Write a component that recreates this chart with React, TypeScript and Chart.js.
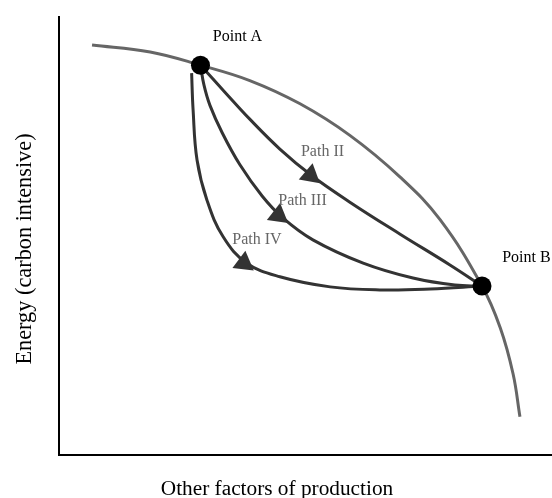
import React, { useEffect, useRef } from "react";
import { Chart, registerables } from "chart.js";

Chart.register(...registerables);

// Production possibility frontier (gray curve)
const frontierX = [6.7, 18.5, 28.7, 38.7, 48.9, 59.0, 69.2, 77.3, 85.8, 89.5, 92.1, 93.5];
const frontierY = [93.4, 91.8, 88.8, 85.3, 80.0, 72.8, 63.3, 53.6, 38.5, 29.0, 18.5, 8.7];

// Path II
const path2X = [28.7, 33.7, 38.7, 44.8, 51.3, 59.0, 69.2, 79.3, 85.8];
const path2Y = [88.8, 82.6, 76.5, 69.7, 63.6, 57.6, 50.3, 43.3, 38.5];

// Path III
const path3X = [28.7, 29.4, 30.6, 33.1, 36.7, 41.2, 45.4, 51.5, 61.7, 71.8, 80.3, 85.8];
const path3Y = [88.8, 84.3, 79.7, 73.4, 66.1, 59.0, 54.0, 49.0, 43.7, 40.3, 38.7, 38.5];

// Path IV
const path4X = [26.9, 27.2, 28.0, 30.0, 33.3, 38.1, 44.8, 55.0, 65.1, 75.3, 85.8];
const path4Y = [87.0, 78.6, 67.2, 58.1, 49.7, 43.7, 40.6, 38.3, 37.6, 37.8, 38.5];

// Points A and B
const pointNames = ["Point A", "Point B"];
const pointX = [28.7, 85.8];
const pointY = [88.8, 38.5];

// Arrow heads (Path II, Path III, Path IV)
const arrowX = [51.0, 44.5, 37.5];
const arrowY = [63.7, 54.6, 43.7];
const arrowAngle = [130, 128, 127];

// Text labels
const pathNames = ["Path II", "Path III", "Path IV"];
const pathLabelX = [53.45, 49.4, 40.15];
const pathLabelY = [68.1, 56.95, 48.05];
const pointLabelX = [36.2, 89.9];
const pointLabelY = [94.3, 44.0];

const xTitle = "Other factors of production";
const yTitle = "Energy (carbon intensive)";

const FONT = '"Liberation Serif", "Times New Roman", serif';

const zip = (xs: number[], ys: number[]) => xs.map((x, i) => ({ x, y: ys[i] }));

const overlay = {
  id: "overlay",
  beforeDatasetsDraw(chart: any) {
    const { ctx, chartArea } = chart;
    ctx.save();
    ctx.strokeStyle = "#000";
    ctx.lineWidth = 2;
    ctx.beginPath();
    ctx.moveTo(chartArea.left, chartArea.top);
    ctx.lineTo(chartArea.left, chartArea.bottom);
    ctx.lineTo(chartArea.right, chartArea.bottom);
    ctx.stroke();

    ctx.fillStyle = "#000";
    ctx.textAlign = "center";
    ctx.textBaseline = "alphabetic";
    ctx.font = `21.3px ${FONT}`;
    ctx.fillText(xTitle, 277, 495);

    ctx.font = `22.3px ${FONT}`;
    ctx.save();
    ctx.translate(31, 249);
    ctx.rotate(-Math.PI / 2);
    ctx.fillText(yTitle, 0, 0);
    ctx.restore();
    ctx.restore();
  },
  afterDatasetsDraw(chart: any) {
    const { ctx, scales } = chart;
    const xs = scales.x;
    const ys = scales.y;
    ctx.save();
    ctx.font = `16px ${FONT}`;
    ctx.textBaseline = "alphabetic";
    ctx.fillStyle = "#666";
    ctx.textAlign = "center";
    pathNames.forEach((t, i) => {
      ctx.fillText(t, xs.getPixelForValue(pathLabelX[i]), ys.getPixelForValue(pathLabelY[i]));
    });
    ctx.fillStyle = "#000";
    ctx.textAlign = "center";
    ctx.fillText(pointNames[0], xs.getPixelForValue(pointLabelX[0]), ys.getPixelForValue(pointLabelY[0]));
    ctx.textAlign = "left";
    ctx.fillText(pointNames[1], xs.getPixelForValue(pointLabelX[1]), ys.getPixelForValue(pointLabelY[1]));
    ctx.restore();
  },
};

export default function App() {
  const ref = useRef<HTMLCanvasElement | null>(null);
  useEffect(() => {
    if (!ref.current) return;
    const lineDs = (data: any[], color: string, order: number) => ({
      data,
      showLine: true,
      borderColor: color,
      borderWidth: 3,
      borderCapStyle: "butt",
      fill: false,
      tension: 0.4,
      pointRadius: 0,
      pointHoverRadius: 0,
      clip: false,
      order,
    });
    const chart = new Chart(ref.current, {
      type: "scatter",
      data: {
        datasets: [
          {
            data: zip(pointX, pointY),
            showLine: false,
            pointRadius: 9.5,
            pointHoverRadius: 9.5,
            pointBackgroundColor: "#000",
            pointBorderWidth: 0,
            clip: false,
            order: 0,
          } as any,
          {
            data: zip(arrowX, arrowY),
            showLine: false,
            pointStyle: "triangle",
            pointRadius: 12.4,
            pointHoverRadius: 12.4,
            pointRotation: arrowAngle,
            pointBackgroundColor: "#333",
            pointBorderColor: "#333",
            pointBorderWidth: 0,
            clip: false,
            order: 1,
          } as any,
          lineDs(zip(path2X, path2Y), "#333", 2),
          lineDs(zip(path3X, path3Y), "#333", 3),
          lineDs(zip(path4X, path4Y), "#333", 4),
          lineDs(zip(frontierX, frontierY), "#666", 5),
        ],
      },
      options: {
        animation: false,
        responsive: false,
        devicePixelRatio: 1,
        layout: { autoPadding: false, padding: { left: 59, top: 16, right: 0, bottom: 43 } },
        plugins: { legend: { display: false }, tooltip: { enabled: false } },
        events: [],
        scales: {
          x: { type: "linear", min: 0, max: 100, display: false },
          y: { type: "linear", min: 0, max: 100, display: false },
        },
      },
      plugins: [overlay],
    } as any);
    return () => chart.destroy();
  }, []);
  return (
    <div style={{ position: "absolute", left: 0, top: 0, width: 552, height: 498, background: "#fff" }}>
      <canvas ref={ref} width={552} height={498} style={{ display: "block", width: 552, height: 498 }} />
    </div>
  );
}
